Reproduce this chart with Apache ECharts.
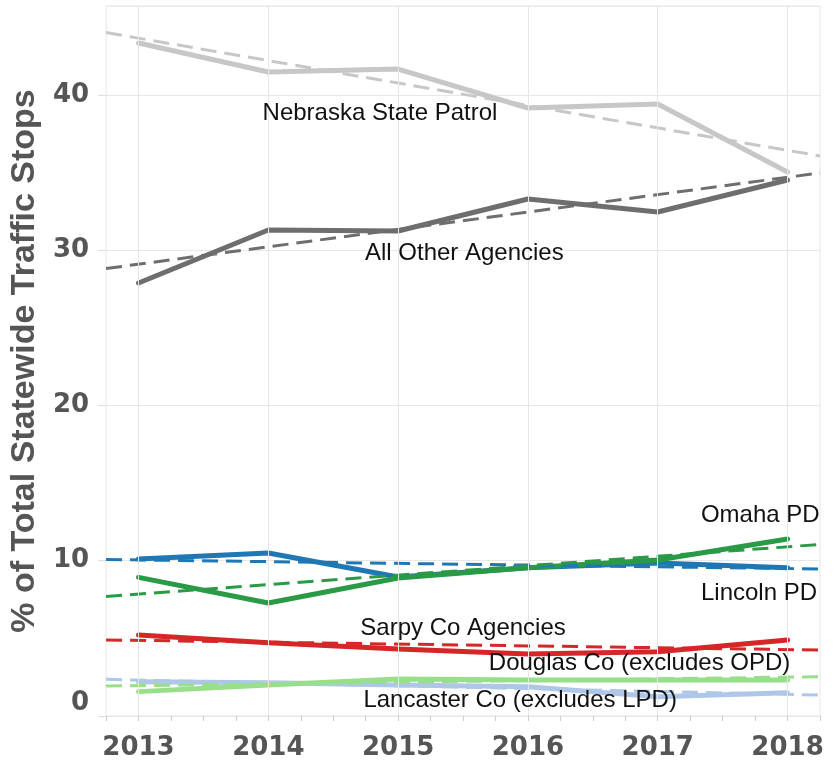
<!DOCTYPE html>
<html>
<head>
<meta charset="utf-8">
<script src="https://cdn.jsdelivr.net/npm/echarts@6/dist/echarts.min.js"></script>
<style>
  html, body { margin: 0; padding: 0; background: #fff; }
  #chart { width: 835px; height: 766px; }
</style>
</head>
<body>
<div id="chart"></div>
<script>
// years on the x axis
const years = [2013, 2014, 2015, 2016, 2017, 2018];
const yTicks = [0, 10, 20, 30, 40];

// % of total statewide traffic stops, per agency
const statePatrol   = [43.35, 41.48, 41.67, 39.16, 39.42, 35.04];
const otherAgencies = [27.89, 31.30, 31.24, 33.30, 32.46, 34.52];
const omahaPD       = [8.93, 7.28, 8.89, 9.55, 10.05, 11.40];
const lincolnPD     = [10.11, 10.50, 8.95, 9.55, 9.85, 9.55];
const sarpyCo       = [5.22, 4.72, 4.32, 3.99, 4.14, 4.90];
const douglasCo     = [1.57, 2.00, 2.38, 2.32, 2.32, 2.32];
const lancasterCo   = [2.21, 2.14, 2.00, 1.89, 1.24, 1.50];

// trend lines, read at the left and right edge of the plot
const trendYears     = [2012.75, 2018.25];
const statePatrolTr  = [44.02, 36.07];
const otherTr        = [28.82, 34.98];
const omahaTr        = [7.70, 11.05];
const lincolnTr      = [10.08, 9.47];
const sarpyTr        = [4.90, 4.25];
const douglasTr      = [1.93, 2.53];
const lancasterTr    = [2.36, 1.35];

const agencies = ['Nebraska State Patrol', 'All Other Agencies', 'Omaha PD', 'Lincoln PD',
  'Sarpy Co Agencies', 'Douglas Co (excludes OPD)', 'Lancaster Co (excludes LPD)'];

function pairs(xs, ys) {
  return xs.map((x, i) => [x, ys[i]]);
}

function solid(name, values, color) {
  return {
    name: name, type: 'line', z: 3,
    data: pairs(years, values),
    showSymbol: false, symbol: 'none',
    lineStyle: { color: color, width: 5, cap: 'round', join: 'round' },
    silent: true, animation: false
  };
}

function dashed(name, values, color) {
  return {
    name: name + ' trend', type: 'line', z: 4,
    data: pairs(trendYears, values),
    showSymbol: false, symbol: 'none',
    lineStyle: { color: color, width: 3, type: [16, 8] },
    silent: true, animation: false
  };
}

// annotation labels, placed in data space
function tag(text, x, y) {
  return {
    coord: [x, y], symbol: 'circle', symbolSize: 0,
    label: { show: true, position: 'inside', formatter: text, color: '#111',
      fontFamily: 'Liberation Sans', fontSize: 24 }
  };
}

const chart = echarts.init(document.getElementById('chart'));

const option = {
  animation: false,
  grid: {
    left: 105, right: 15, top: 6, bottom: 50,
    show: true, borderColor: '#e6e6e6', borderWidth: 1
  },
  xAxis: {
    type: 'value', min: 2012.75, max: 2018.25, interval: 0.25,
    axisLine: { show: true, lineStyle: { color: '#e6e6e6' } },
    axisTick: { show: true, length: 5, lineStyle: { color: '#cccccc' } },
    splitLine: { show: false },
    axisLabel: {
      interval: 0, margin: 19,
      formatter: v => (years.indexOf(v) >= 0 ? String(v) : ''),
      color: '#555', fontFamily: 'DejaVu Sans', fontWeight: 'bold', fontSize: 26
    }
  },
  yAxis: {
    type: 'value', min: 0, max: 45.73, interval: 10,
    name: '% of Total Statewide Traffic Stops',
    nameLocation: 'middle', nameGap: 57, nameRotate: 90,
    nameTextStyle: { color: '#555', fontFamily: 'Liberation Sans', fontWeight: 'bold', fontSize: 34 },
    axisLine: { show: false },
    axisTick: { show: true, length: 8, lineStyle: { color: '#dddddd' } },
    splitLine: { show: true, lineStyle: { color: '#e8e8e8', width: 1 } },
    axisLabel: {
      showMaxLabel: false, margin: 17, verticalAlignMinLabel: 'bottom',
      formatter: v => (yTicks.indexOf(v) >= 0 ? String(v) : ''),
      color: '#555', fontFamily: 'DejaVu Sans', fontWeight: 'bold', fontSize: 26
    }
  },
  series: [
    {
      // vertical grid lines at the years
      name: 'grid', type: 'line', z: 1, data: [], silent: true, animation: false,
      markLine: {
        silent: true, symbol: 'none', label: { show: false },
        lineStyle: { color: '#e6e6e6', type: 'solid', width: 1 },
        data: years.map(y => ({ xAxis: y }))
      }
    },
    solid(agencies[6], lancasterCo, '#aec7e8'),
    solid(agencies[5], douglasCo, '#98df8a'),
    solid(agencies[4], sarpyCo, '#d62728'),
    solid(agencies[3], lincolnPD, '#1f77b4'),
    solid(agencies[2], omahaPD, '#2a9a47'),
    solid(agencies[0], statePatrol, '#c7c7c7'),
    solid(agencies[1], otherAgencies, '#6e6e6e'),
    dashed(agencies[6], lancasterTr, '#aec7e8'),
    dashed(agencies[5], douglasTr, '#98df8a'),
    dashed(agencies[4], sarpyTr, '#d62728'),
    dashed(agencies[3], lincolnTr, '#1f77b4'),
    dashed(agencies[2], omahaTr, '#2a9a47'),
    dashed(agencies[0], statePatrolTr, '#c7c7c7'),
    dashed(agencies[1], otherTr, '#6e6e6e'),
    {
      name: 'labels', type: 'line', z: 6, data: [], silent: true, animation: false,
      markPoint: {
        silent: true,
        data: [
          tag(agencies[0], 2014.86, 38.8),
          tag(agencies[1], 2015.51, 29.8),
          tag(agencies[2], 2017.79, 12.95),
          tag(agencies[3], 2017.78, 7.92),
          tag(agencies[4], 2015.50, 5.67),
          tag(agencies[5], 2016.86, 3.41),
          tag(agencies[6], 2015.94, 1.03)
        ]
      }
    }
  ]
};

chart.setOption(option);
</script>
</body>
</html>
